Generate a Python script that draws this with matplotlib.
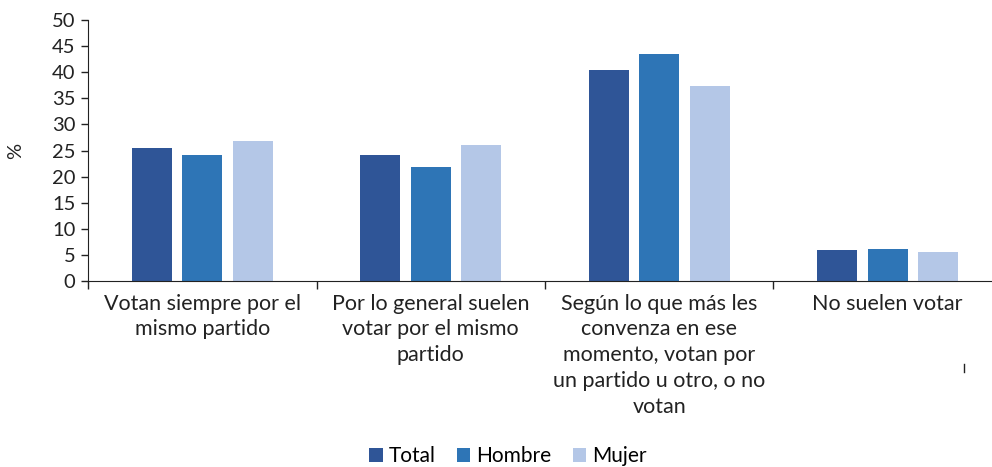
import matplotlib
matplotlib.use("Agg")
import matplotlib.pyplot as plt
import numpy as np

plt.rcParams['font.family'] = ['Lato', 'DejaVu Sans']

categories = [
    "Votan siempre por el\nmismo partido",
    "Por lo general suelen\nvotar por el mismo\npartido",
    "Según lo que más les\nconvenza en ese\nmomento, votan por\nun partido u otro, o no\nvotan",
    "No suelen votar",
]
series_names = ["Total", "Hombre", "Mujer"]
total = [25.5, 24.2, 40.5, 5.9]
hombre = [24.2, 21.9, 43.5, 6.2]
mujer = [26.9, 26.0, 37.4, 5.6]
colors = ["#2F5597", "#2E75B6", "#B4C7E7"]
yticks = [0, 5, 10, 15, 20, 25, 30, 35, 40, 45, 50]

fig = plt.figure(figsize=(9.92, 4.67), dpi=100)
ax = fig.add_axes([88/992, 186/467, (1002-88)/992, (281-20)/467])

x = np.arange(len(categories))
width = 0.175
step = 0.222
for i, (vals, c, name) in enumerate(zip([total, hombre, mujer], colors, series_names)):
    ax.bar(x + (i - 1) * step, vals, width=width, color=c, label=name, zorder=2)

ax.set_xlim(-0.5, len(categories) - 0.5)
ax.set_ylim(0, 50)
ax.set_yticks(yticks)
ax.set_yticklabels([str(t) for t in yticks], fontsize=14.5, color="#222222")
ax.tick_params(axis='y', length=5, width=1, pad=4, colors="#222222", labelcolor="#222222")

ax.set_xticks(np.arange(len(categories) + 1) - 0.5)
ax.set_xticklabels([])
ax.tick_params(axis='x', length=6, width=1, direction='out', colors="#222222")
ax.set_xticks(x, minor=True)
ax.set_xticklabels(categories, minor=True, fontsize=15.5, color="#222222", linespacing=1.37)
ax.tick_params(axis='x', which='minor', length=0, pad=9)

for s in ['top', 'right']:
    ax.spines[s].set_visible(False)
ax.spines['left'].set_color("#222222")
ax.spines['bottom'].set_color("#222222")

ax.set_ylabel("%", fontsize=14.5, color="#222222", labelpad=20)

# small stray mark in the reference
fig.add_artist(plt.Line2D([964/992, 964/992], [1 - 372/467, 1 - 364/467], color="#222222", lw=1))

fig.legend(loc='center', bbox_to_anchor=(508/992, 1 - 456/467), ncol=3, frameon=False,
           fontsize=15, handlelength=0.65, handleheight=0.65, handletextpad=0.3,
           columnspacing=1.0, borderaxespad=0)

fig.savefig("out.png", dpi=100)
